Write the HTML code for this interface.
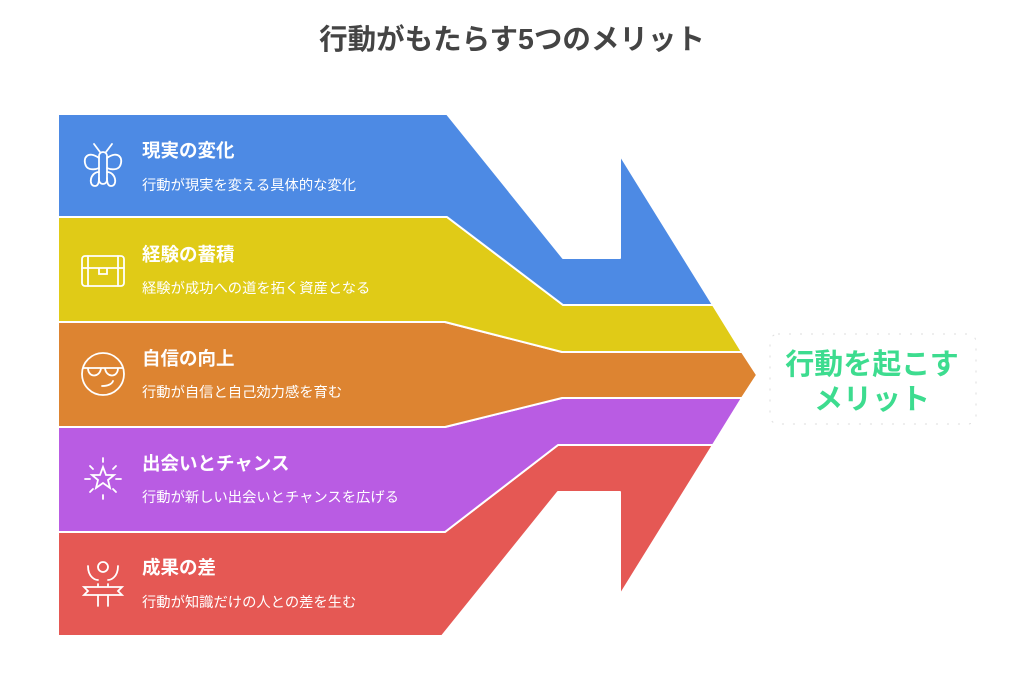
<!DOCTYPE html>
<html><head><meta charset="utf-8"><style>
body{margin:0;width:1024px;height:696px;background:#fff;overflow:hidden;font-family:"Liberation Sans","Noto Sans CJK JP",sans-serif;}
svg{position:absolute;left:0;top:0}
</style></head><body>
<svg width="1024" height="696" viewBox="0 0 1024 696" xmlns="http://www.w3.org/2000/svg" font-family="Liberation Sans, Noto Sans CJK JP, sans-serif">
<text x="512" y="49" text-anchor="middle" font-size="28.5" font-weight="bold" fill="#444">行動がもたらす5つのメリット</text>
<g stroke="#fff" stroke-width="2" stroke-linejoin="round">
<polygon fill="#e55854" points="58,532 445,532 558,445 713,445 620,595 620,492 558,492 442,636 58,636"/>
<polygon fill="#b95ce3" points="58,427 445,427 562,398 742,398 713,445 558,445 445,532 58,532"/>
<polygon fill="#dd8431" points="58,322 445,322 562,352 742,352 757,375 742,398 562,398 445,427 58,427"/>
<polygon fill="#e0cb17" points="58,217 447,217 563,305 713,305 742,352 562,352 445,322 58,322"/>
<polygon fill="#4d8ae4" points="58,114 447,114 563,258 620,258 620,155 713,305 563,305 447,217 58,217"/>
</g>
<g fill="#fff" font-weight="bold" font-size="18.5">
<text x="142" y="157">現実の変化</text>
<text x="142" y="261">経験の蓄積</text>
<text x="142" y="365">自信の向上</text>
<text x="142" y="470">出会いとチャンス</text>
<text x="142" y="574">成果の差</text>
</g>
<g fill="#fff" font-size="14.3">
<text x="142" y="190">行動が現実を変える具体的な変化</text>
<text x="142" y="293">経験が成功への道を拓く資産となる</text>
<text x="142" y="397">行動が自信と自己効力感を育む</text>
<text x="142" y="502">行動が新しい出会いとチャンスを広げる</text>
<text x="142" y="607">行動が知識だけの人との差を生む</text>
</g>
<g fill="none" stroke="#fff" stroke-width="1.8" stroke-linecap="round">
<rect x="99" y="152" width="8" height="32" rx="4"/>
<path d="M100 152 L94 144 M106 152 L112 144"/>
<path d="M99 158 C88 150 82 158 86 166 C88 170 95 170 99 168 M107 158 C118 150 124 158 120 166 C118 170 111 170 107 168"/>
<path d="M99 172 C90 172 88 186 95 186 C98 186 99 182 99 178 M107 172 C116 172 118 186 111 186 C108 186 107 182 107 178"/>
<rect x="82" y="256" width="42" height="30" rx="3"/>
<path d="M82 268 H124 M88 256 V286 M118 256 V286 M99 268 V274 H107 V268"/>
<circle cx="103" cy="374" r="21"/>
<path d="M84 368 H122 M88 368 C88 378 100 378 101 368 M105 368 C106 378 118 378 118 368 M102 386 C108 386 112 384 113 381"/>
<path d="M103 467 L106 475 L114 475 L108 480 L110 488 L103 483 L96 488 L98 480 L92 475 L100 475 Z"/>
<path d="M103 458 V462 M85 479 H90 M116 479 H121 M90 466 L93 469 M116 466 L113 469 M90 492 L93 489 M116 492 L113 489 M103 495 V499"/>
<circle cx="103" cy="567" r="5"/>
<path d="M88 566 C88 578 96 580 98 580 M118 566 C118 578 110 580 108 580 M84 587 H122 L118 591 L122 595 H84 L88 591 Z M98 596 V606 M108 596 V606 M98 584 V587 M108 584 V587"/>
</g>
<g fill="none" stroke="#ddd" stroke-width="1" stroke-dasharray="2 9">
<rect x="770" y="334" width="206" height="90" rx="8"/>
</g>
<g fill="#3ddc8f" font-weight="bold" font-size="29" text-anchor="middle">
<text x="872" y="374">行動を起こす</text>
<text x="872" y="409">メリット</text>
</g>
</svg>
</body></html>
